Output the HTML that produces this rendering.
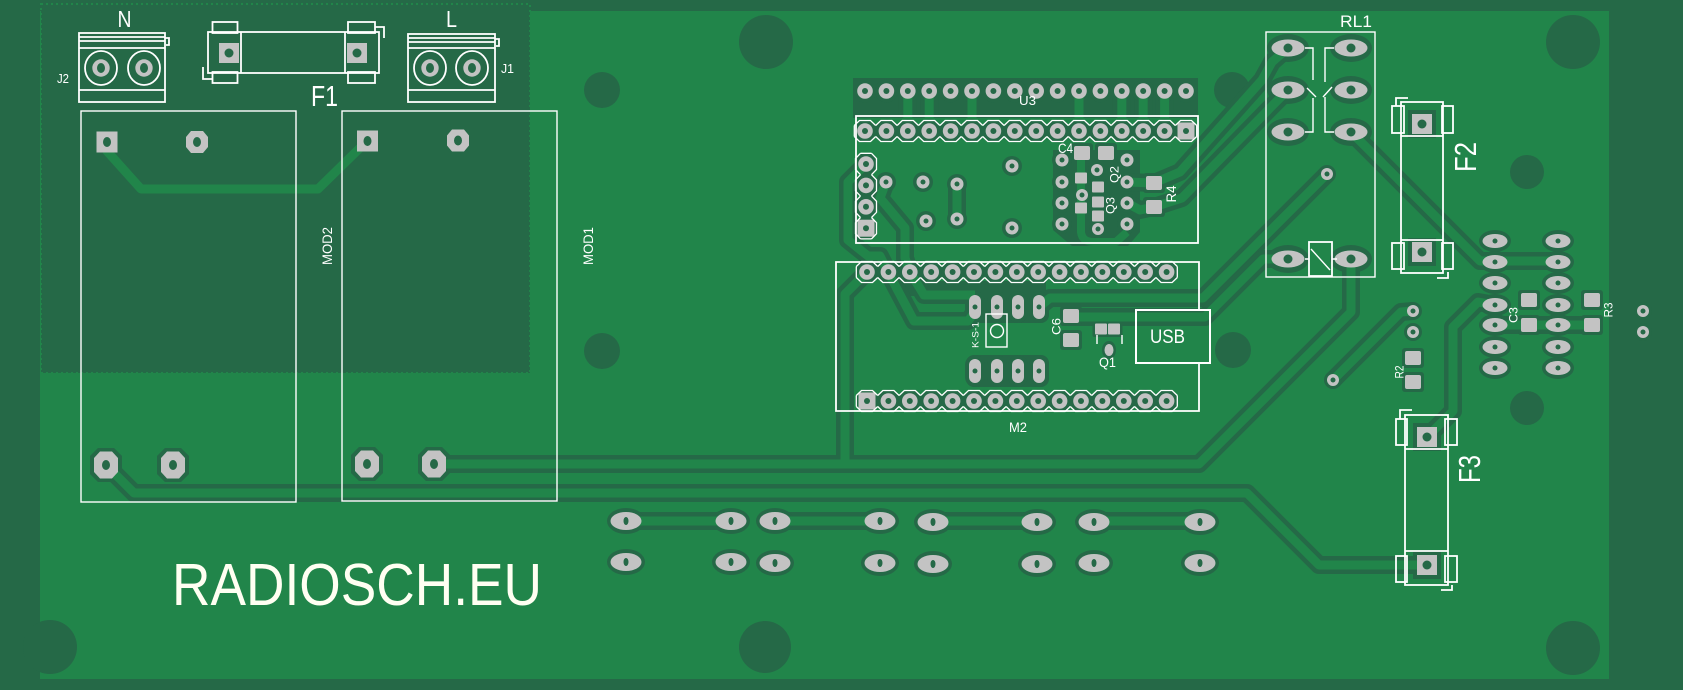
<!DOCTYPE html>
<html><head><meta charset="utf-8">
<style>
html,body{margin:0;padding:0;background:#256947;overflow:hidden;}
svg{display:block;}
text{font-family:"Liberation Sans",sans-serif;fill:#ffffff;}
</style></head><body>
<svg width="1683" height="690" viewBox="0 0 1683 690" xmlns="http://www.w3.org/2000/svg">
<defs>
<g id="pin"><circle r="11.5" style="fill:var(--c,#256947)"/><circle r="7.8" style="fill:var(--g,#c3c3c3)"/><circle r="3" style="fill:var(--h,#256947)"/></g>
<g id="pinsq"><circle r="11.5" style="fill:var(--c,#256947)"/><rect x="-8.5" y="-8.5" width="17" height="17" style="fill:var(--g,#c3c3c3)"/><circle r="3" style="fill:var(--h,#256947)"/></g>
<g id="ring"><circle r="10" style="fill:var(--c,#256947)"/><circle r="6.5" style="fill:var(--g,#c3c3c3)"/><circle r="2.5" style="fill:var(--h,#256947)"/></g>
<g id="via"><circle r="9" style="fill:var(--c,#256947)"/><circle r="6" style="fill:var(--g,#c3c3c3)"/><circle r="2.5" style="fill:var(--h,#256947)"/></g>
<g id="bp"><ellipse rx="19" ry="13" style="fill:var(--c,#256947)"/><ellipse rx="15.5" ry="9" style="fill:var(--g,#c3c3c3)"/><ellipse rx="2.5" ry="4" style="fill:var(--h,#256947)"/></g>
<g id="rp"><ellipse rx="21" ry="14" style="fill:var(--c,#256947)"/><ellipse rx="16.5" ry="8.5" style="fill:var(--g,#c3c3c3)"/><circle r="4.5" style="fill:var(--h,#256947)"/></g>
<g id="sp"><ellipse rx="16" ry="11" style="fill:var(--c,#256947)"/><ellipse rx="12.5" ry="7" style="fill:var(--g,#c3c3c3)"/><circle r="2.5" style="fill:var(--h,#256947)"/></g>
<g id="ov"><rect x="-10" y="-16" width="20" height="32" rx="10" style="fill:var(--c,#256947)"/><rect x="-6" y="-12" width="12" height="24" rx="6" style="fill:var(--g,#c3c3c3)"/><circle r="2.5" style="fill:var(--h,#256947)"/></g>
<g id="oct"><polygon points="-8,-17 8,-17 16,-9 16,9 8,17 -8,17 -16,9 -16,-9" style="fill:var(--c,#256947)"/><polygon points="-6,-13.5 6,-13.5 12,-7 12,7 6,13.5 -6,13.5 -12,7 -12,-7" style="fill:var(--g,#c3c3c3)"/><ellipse rx="4" ry="5" style="fill:var(--h,#256947)"/></g>
<g id="sq20"><rect x="-14" y="-14" width="28" height="28" style="fill:var(--c,#256947)"/><rect x="-10" y="-10" width="20" height="20" style="fill:var(--g,#c3c3c3)"/><circle r="4.5" style="fill:var(--h,#256947)"/></g>
<g id="smdA"><rect x="-11" y="-10" width="22" height="20" rx="3" style="fill:var(--c,#256947)"/><rect x="-8" y="-7" width="16" height="14" rx="2" style="fill:var(--g,#c3c3c3)"/></g>
<g id="smdB"><rect x="-8.5" y="-8" width="17" height="16" rx="2" style="fill:var(--c,#256947)"/><rect x="-6" y="-5.5" width="12" height="11" rx="1" style="fill:var(--g,#c3c3c3)"/></g>
<path id="pol" d="M-10.7,-5.5 L-5.5,-10.5 L5.5,-10.5 L10.7,-5.5 M-10.7,5.5 L-5.5,10.5 L5.5,10.5 L10.7,5.5" fill="none" stroke="#ffffff" stroke-width="1.3"/>
<path id="polv" d="M-5.5,-10.7 L-10.5,-5.5 L-10.5,5.5 L-5.5,10.7 M5.5,-10.7 L10.5,-5.5 L10.5,5.5 L5.5,10.7" fill="none" stroke="#ffffff" stroke-width="1.3"/>

<g id="traces" fill="none" stroke-linejoin="round">
<path d="M434,464 L1199,464 L1351,312 L1351,259"/>
<path d="M106,465 L134,493 L1247,493 L1319,565 L1427,565"/>
<path d="M867,272 L845,294 L845,464"/>
<path d="M1333,380 L1401,312 L1413,311"/>
<path d="M1427,437 L1453,411 L1453,327 L1478,302 L1495,305"/>
<path d="M1351,132 L1480,261 L1558,261"/>
<path d="M1495,325 L1592,325"/>
<path d="M1288,48 L1272,62 L1262,80 L1180,172 L1154,183"/>
<path d="M1288,90 L1272,106 L1182,198 L1154,207"/>
<path d="M1327,174 L1203,298 L1050,298 L1039,307"/>
<path d="M1288,259 L1263,259 L1205,317 L1071,317"/>
<path d="M888,272 L914,321 L968,321 L975,312"/>
<path d="M910,272 L924,295 L975,295"/>
<path d="M866,164 L848,182 L848,240 L868,256 L880,256 L888,272"/>
<path d="M886,182 L880,198 L905,228 L905,258 L910,272"/>
<path d="M957,184 L957,219"/>
<path d="M1127,182 L1154,183"/>
<path d="M1127,203 L1140,210 L1154,207"/>
<path d="M626,521 L731,521 M775,521 L880,521 M933,521 L1037,521 M1094,521 L1200,521"/>
<path d="M907.8,91 V118 M929.2,91 V118 M972,91 V118 M1079,91 V118 M1121.8,91 V118 M1143.2,91 V118 M1164.6,91 V118"/>
</g>

<g id="pads">
<use href="#pin" x="865" y="91"/><use href="#pin" x="886.4" y="91"/><use href="#pin" x="907.8" y="91"/><use href="#pin" x="929.2" y="91"/><use href="#pin" x="950.6" y="91"/><use href="#pin" x="972" y="91"/><use href="#pin" x="993.4" y="91"/><use href="#pin" x="1014.8" y="91"/><use href="#pin" x="1036.2" y="91"/><use href="#pin" x="1057.6" y="91"/><use href="#pin" x="1079" y="91"/><use href="#pin" x="1100.4" y="91"/><use href="#pin" x="1121.8" y="91"/><use href="#pin" x="1143.2" y="91"/><use href="#pin" x="1164.6" y="91"/><use href="#pin" x="1186" y="91"/>
<use href="#pin" x="865" y="131"/><use href="#pin" x="886.4" y="131"/><use href="#pin" x="907.8" y="131"/><use href="#pin" x="929.2" y="131"/><use href="#pin" x="950.6" y="131"/><use href="#pin" x="972" y="131"/><use href="#pin" x="993.4" y="131"/><use href="#pin" x="1014.8" y="131"/><use href="#pin" x="1036.2" y="131"/><use href="#pin" x="1057.6" y="131"/><use href="#pin" x="1079" y="131"/><use href="#pin" x="1100.4" y="131"/><use href="#pin" x="1121.8" y="131"/><use href="#pin" x="1143.2" y="131"/><use href="#pin" x="1164.6" y="131"/><use href="#pinsq" x="1186" y="131"/>
<use href="#pin" x="866" y="164"/><use href="#pin" x="866" y="185.4"/><use href="#pin" x="866" y="206.8"/><use href="#pinsq" x="866" y="228.2"/>
<use href="#pin" x="867" y="272"/><use href="#pin" x="888.4" y="272"/><use href="#pin" x="909.8" y="272"/><use href="#pin" x="931.2" y="272"/><use href="#pin" x="952.6" y="272"/><use href="#pin" x="974" y="272"/><use href="#pin" x="995.4" y="272"/><use href="#pin" x="1016.8" y="272"/><use href="#pin" x="1038.2" y="272"/><use href="#pin" x="1059.6" y="272"/><use href="#pin" x="1081" y="272"/><use href="#pin" x="1102.4" y="272"/><use href="#pin" x="1123.8" y="272"/><use href="#pin" x="1145.2" y="272"/><use href="#pin" x="1166.6" y="272"/>
<use href="#pinsq" x="867" y="401"/><use href="#pin" x="888.4" y="401"/><use href="#pin" x="909.8" y="401"/><use href="#pin" x="931.2" y="401"/><use href="#pin" x="952.6" y="401"/><use href="#pin" x="974" y="401"/><use href="#pin" x="995.4" y="401"/><use href="#pin" x="1016.8" y="401"/><use href="#pin" x="1038.2" y="401"/><use href="#pin" x="1059.6" y="401"/><use href="#pin" x="1081" y="401"/><use href="#pin" x="1102.4" y="401"/><use href="#pin" x="1123.8" y="401"/><use href="#pin" x="1145.2" y="401"/><use href="#pin" x="1166.6" y="401"/>
<use href="#ring" x="886" y="182"/><use href="#ring" x="923" y="182"/><use href="#ring" x="957" y="184"/><use href="#ring" x="957" y="219"/><use href="#ring" x="1012" y="166"/><use href="#ring" x="1012" y="228"/><use href="#ring" x="926" y="221"/>
<use href="#ring" x="1062" y="160"/><use href="#ring" x="1062" y="182"/><use href="#ring" x="1062" y="203"/><use href="#ring" x="1062" y="224"/>
<use href="#ring" x="1127" y="160"/><use href="#ring" x="1127" y="182"/><use href="#ring" x="1127" y="203"/><use href="#ring" x="1127" y="224"/>
<use href="#via" x="1097" y="170"/><use href="#via" x="1082" y="195"/><use href="#via" x="1098" y="229"/>
<use href="#via" x="1327" y="174"/><use href="#via" x="1333" y="380"/><use href="#via" x="1413" y="311"/><use href="#via" x="1413" y="332"/>
<use href="#via" x="1643" y="311"/><use href="#via" x="1643" y="332"/>
<use href="#smdA" x="1082" y="153"/><use href="#smdA" x="1106" y="153"/>
<use href="#smdA" x="1154" y="183"/><use href="#smdA" x="1154" y="207"/>
<use href="#smdA" x="1071" y="316"/><use href="#smdA" x="1071" y="340"/>
<use href="#smdA" x="1529" y="300"/><use href="#smdA" x="1529" y="325"/>
<use href="#smdA" x="1592" y="300"/><use href="#smdA" x="1592" y="325"/>
<use href="#smdA" x="1413" y="358"/><use href="#smdA" x="1413" y="382"/>
<use href="#smdB" x="1081" y="178"/><use href="#smdB" x="1098" y="187"/><use href="#smdB" x="1081" y="208"/><use href="#smdB" x="1098" y="202"/><use href="#smdB" x="1098" y="216"/>
<use href="#smdB" x="1101" y="329"/><use href="#smdB" x="1114" y="329"/>
<ellipse cx="1109" cy="350" rx="7" ry="9" style="fill:var(--c,#256947)"/><ellipse cx="1109" cy="350" rx="4.5" ry="6" style="fill:var(--g,#c3c3c3)"/>
<use href="#ov" x="975" y="307"/><use href="#ov" x="997" y="307"/><use href="#ov" x="1018" y="307"/><use href="#ov" x="1039" y="307"/>
<use href="#ov" x="975" y="371"/><use href="#ov" x="997" y="371"/><use href="#ov" x="1018" y="371"/><use href="#ov" x="1039" y="371"/>
<use href="#rp" x="1288" y="48"/><use href="#rp" x="1288" y="90"/><use href="#rp" x="1288" y="132"/><use href="#rp" x="1288" y="259"/>
<use href="#rp" x="1351" y="48"/><use href="#rp" x="1351" y="90"/><use href="#rp" x="1351" y="132"/><use href="#rp" x="1351" y="259"/>
<use href="#sp" x="1495" y="241"/><use href="#sp" x="1495" y="262"/><use href="#sp" x="1495" y="283"/><use href="#sp" x="1495" y="305"/><use href="#sp" x="1495" y="325"/><use href="#sp" x="1495" y="347"/><use href="#sp" x="1495" y="368"/>
<use href="#sp" x="1558" y="241"/><use href="#sp" x="1558" y="262"/><use href="#sp" x="1558" y="283"/><use href="#sp" x="1558" y="305"/><use href="#sp" x="1558" y="325"/><use href="#sp" x="1558" y="347"/><use href="#sp" x="1558" y="368"/>
<use href="#bp" x="626" y="521"/><use href="#bp" x="731" y="521"/><use href="#bp" x="775" y="521"/><use href="#bp" x="880" y="521"/><use href="#bp" x="933" y="522"/><use href="#bp" x="1037" y="522"/><use href="#bp" x="1094" y="522"/><use href="#bp" x="1200" y="522"/>
<use href="#bp" x="626" y="562"/><use href="#bp" x="731" y="562"/><use href="#bp" x="775" y="563"/><use href="#bp" x="880" y="563"/><use href="#bp" x="933" y="564"/><use href="#bp" x="1037" y="564"/><use href="#bp" x="1094" y="563"/><use href="#bp" x="1200" y="563"/>
<use href="#oct" x="106" y="465"/><use href="#oct" x="173" y="465"/><use href="#oct" x="367" y="464"/><use href="#oct" x="434" y="464"/>
<use href="#sq20" x="229" y="53"/><use href="#sq20" x="357" y="53"/>
<use href="#sq20" x="1422" y="124"/><use href="#sq20" x="1422" y="252"/>
<use href="#sq20" x="1427" y="437"/><use href="#sq20" x="1427" y="565"/>
</g>
</defs>

<rect x="0" y="0" width="1683" height="690" fill="#256947"/>
<rect x="40" y="11" width="1569" height="668" fill="#21854a"/>

<rect x="41" y="4" width="489" height="369" fill="#256947" stroke="#21854a" stroke-width="2" stroke-dasharray="2 3"/>

<g fill="#256947">
<circle cx="766" cy="42" r="27"/>
<circle cx="1573" cy="42" r="27"/>
<circle cx="50" cy="647" r="27"/>
<circle cx="765" cy="647" r="26"/>
<circle cx="1573" cy="648" r="27"/>
<circle cx="602" cy="90" r="18"/>
<circle cx="602" cy="351" r="18"/>
<circle cx="1232" cy="90" r="18"/>
<circle cx="1233" cy="350" r="18"/>
<circle cx="1527" cy="172" r="17"/>
<circle cx="1527" cy="408" r="17"/>
</g>

<g fill="#256947">
<rect x="853" y="78" width="345" height="40"/>
<path d="M1053,150 L1140,150 L1140,232 L1128,246 L1072,246 L1053,230 Z"/>
<rect x="966" y="291" width="83" height="32" rx="8"/>
<rect x="966" y="355" width="83" height="32" rx="8"/>
<rect x="900" y="281" width="146" height="15"/>
</g>

<use href="#traces" stroke="#256947" stroke-width="18"/>
<use href="#pads" style="--g:transparent;--h:transparent"/>
<use href="#traces" stroke="#21854a" stroke-width="9"/>
<path d="M1081,160 V232 Q1082,242 1094,242 L1116,242 L1127,232" fill="none" stroke="#21854a" stroke-width="8" stroke-linejoin="round"/>
<use href="#pads" style="--c:transparent"/>

<path d="M106,150 L141,189 L318,189 L365,143" fill="none" stroke="#21854a" stroke-width="9" stroke-linejoin="round"/>

<rect x="96.5" y="131.5" width="21" height="21" fill="#c3c3c3"/><ellipse cx="107" cy="142" rx="4" ry="5" fill="#256947"/>
<polygon points="191,131 203,131 208,137 208,147 203,153 191,153 186,147 186,137" fill="#c3c3c3"/><ellipse cx="197" cy="142" rx="4" ry="5" fill="#256947"/>
<rect x="357" y="130.5" width="21" height="21" fill="#c3c3c3"/><ellipse cx="367.5" cy="141" rx="4" ry="5" fill="#256947"/>
<polygon points="452,129.5 464,129.5 469,135.5 469,145.5 464,151.5 452,151.5 447,145.5 447,135.5" fill="#c3c3c3"/><ellipse cx="458" cy="140.5" rx="4" ry="5" fill="#256947"/>

<g fill="#c3c3c3"><circle cx="101" cy="68" r="8.7"/><circle cx="144" cy="68" r="8.7"/><circle cx="430" cy="68" r="8.7"/><circle cx="472" cy="68" r="8.7"/></g>
<g fill="#256947"><ellipse cx="101" cy="68" rx="4" ry="5"/><ellipse cx="144" cy="68" rx="4" ry="5"/><ellipse cx="430" cy="68" rx="4" ry="5"/><ellipse cx="472" cy="68" rx="4" ry="5"/></g>

<g fill="none" stroke="#ffffff" stroke-width="1.8">
<rect x="79" y="33" width="86" height="69"/>
<path d="M79,37 H165 M79,41 H165 M79,48 H165 M79,90 H165 M165,38 H169 V45 H166"/>
<ellipse cx="101" cy="68" rx="16" ry="17"/><ellipse cx="144" cy="68" rx="16" ry="17"/>
<rect x="408" y="34" width="87" height="68"/>
<path d="M408,38 H495 M408,42 H495 M408,48 H495 M408,90 H495 M495,39 H499 V46 H496"/>
<ellipse cx="430" cy="68" rx="16" ry="17"/><ellipse cx="472" cy="68" rx="16" ry="17"/>
<rect x="208" y="32" width="171" height="41"/>
<path d="M241,32 V73 M345,32 V73 M203,67 V79 H212 M375,27 H384 V38"/>
<rect x="212.5" y="22" width="25" height="11"/><rect x="212.5" y="72" width="25" height="11"/>
<rect x="348" y="22" width="27" height="11"/><rect x="348" y="72" width="27" height="11"/>
<rect x="1401" y="102" width="42" height="171"/>
<path d="M1401,136 H1443 M1401,240 H1443 M1396,106 V98 H1408 M1437,278 H1448 V272"/>
<rect x="1392" y="106" width="12" height="27"/><rect x="1442" y="106" width="11" height="27"/>
<rect x="1392" y="243" width="12" height="26"/><rect x="1442" y="243" width="11" height="26"/>
<rect x="1405" y="415" width="43" height="170"/>
<path d="M1405,449 H1448 M1405,551 H1448 M1400,419 V410 H1412 M1441,590 H1452 V585"/>
<rect x="1396" y="419" width="11" height="26"/><rect x="1445" y="419" width="12" height="26"/>
<rect x="1396" y="556" width="11" height="26"/><rect x="1445" y="556" width="12" height="26"/>
<rect x="1309" y="242" width="23" height="34"/>
</g>
<g fill="none" stroke="#ffffff" stroke-width="1.4">
<rect x="81" y="111" width="215" height="391"/>
<rect x="342" y="111" width="215" height="390"/>
<rect x="1266" y="32" width="109" height="245"/>
<rect x="856" y="116" width="342" height="127" stroke-width="1.8"/>
<path d="M1199,310 V262 H836 V411 H1199 V363" stroke-width="1.8"/>
<rect x="1136" y="310" width="74" height="53" stroke-width="2"/>
<rect x="986" y="314" width="21" height="33"/>
<circle cx="997" cy="331" r="6.5"/>
<path d="M1097,335 V344 M1122,335 V344"/>
<path d="M1305,48 H1313 V80 M1307,88 L1316,97 M1313,98 V132 H1305 M1334,48 H1325 V82 M1323,97 L1332,87 M1325,97 V132 H1334"/>
<path d="M1311,249 L1330,270 M1305,259 H1309 M1332,259 H1337"/>
</g>

<g>
<use href="#pol" x="865" y="131"/><use href="#pol" x="886.4" y="131"/><use href="#pol" x="907.8" y="131"/><use href="#pol" x="929.2" y="131"/><use href="#pol" x="950.6" y="131"/><use href="#pol" x="972" y="131"/><use href="#pol" x="993.4" y="131"/><use href="#pol" x="1014.8" y="131"/><use href="#pol" x="1036.2" y="131"/><use href="#pol" x="1057.6" y="131"/><use href="#pol" x="1079" y="131"/><use href="#pol" x="1100.4" y="131"/><use href="#pol" x="1121.8" y="131"/><use href="#pol" x="1143.2" y="131"/><use href="#pol" x="1164.6" y="131"/><use href="#pol" x="1186" y="131"/>
<use href="#pol" x="867" y="272"/><use href="#pol" x="888.4" y="272"/><use href="#pol" x="909.8" y="272"/><use href="#pol" x="931.2" y="272"/><use href="#pol" x="952.6" y="272"/><use href="#pol" x="974" y="272"/><use href="#pol" x="995.4" y="272"/><use href="#pol" x="1016.8" y="272"/><use href="#pol" x="1038.2" y="272"/><use href="#pol" x="1059.6" y="272"/><use href="#pol" x="1081" y="272"/><use href="#pol" x="1102.4" y="272"/><use href="#pol" x="1123.8" y="272"/><use href="#pol" x="1145.2" y="272"/><use href="#pol" x="1166.6" y="272"/>
<use href="#pol" x="867" y="401"/><use href="#pol" x="888.4" y="401"/><use href="#pol" x="909.8" y="401"/><use href="#pol" x="931.2" y="401"/><use href="#pol" x="952.6" y="401"/><use href="#pol" x="974" y="401"/><use href="#pol" x="995.4" y="401"/><use href="#pol" x="1016.8" y="401"/><use href="#pol" x="1038.2" y="401"/><use href="#pol" x="1059.6" y="401"/><use href="#pol" x="1081" y="401"/><use href="#pol" x="1102.4" y="401"/><use href="#pol" x="1123.8" y="401"/><use href="#pol" x="1145.2" y="401"/><use href="#pol" x="1166.6" y="401"/>
<use href="#polv" x="866" y="164"/><use href="#polv" x="866" y="185.4"/><use href="#polv" x="866" y="206.8"/><use href="#polv" x="866" y="228.2"/>
<path d="M854.3,125.5 V136.5 M1196.7,125.5 V136.5 M856.3,266.5 V277.5 M1177.3,266.5 V277.5 M856.3,395.5 V406.5 M1177.3,395.5 V406.5 M860.5,153.3 H871.5 M860.5,238.9 H871.5" fill="none" stroke="#ffffff" stroke-width="1.3"/>
</g>

<text x="124.5" y="27" font-size="23" text-anchor="middle" textLength="14" lengthAdjust="spacingAndGlyphs">N</text>
<text x="451.5" y="27" font-size="23" text-anchor="middle" textLength="11" lengthAdjust="spacingAndGlyphs">L</text>
<text x="311" y="106" font-size="29" textLength="27" lengthAdjust="spacingAndGlyphs">F1</text>
<text x="57" y="83" font-size="13" textLength="12" lengthAdjust="spacingAndGlyphs">J2</text>
<text x="501" y="73" font-size="13" textLength="13" lengthAdjust="spacingAndGlyphs">J1</text>
<text transform="translate(327,246) rotate(-90)" x="0" y="5" font-size="14" text-anchor="middle" textLength="38" lengthAdjust="spacingAndGlyphs">MOD2</text>
<text transform="translate(588,246) rotate(-90)" x="0" y="5" font-size="14" text-anchor="middle" textLength="38" lengthAdjust="spacingAndGlyphs">MOD1</text>
<text x="1019" y="105" font-size="13" textLength="17" lengthAdjust="spacingAndGlyphs">U3</text>
<text x="1058" y="153" font-size="14" textLength="15" lengthAdjust="spacingAndGlyphs">C4</text>
<text transform="translate(1114,174.5) rotate(-90)" x="0" y="4.5" font-size="12" text-anchor="middle" textLength="17" lengthAdjust="spacingAndGlyphs">Q2</text>
<text transform="translate(1110,205.5) rotate(-90)" x="0" y="4.5" font-size="12" text-anchor="middle" textLength="17" lengthAdjust="spacingAndGlyphs">Q3</text>
<text transform="translate(1171,194) rotate(-90)" x="0" y="5" font-size="14" text-anchor="middle" textLength="17" lengthAdjust="spacingAndGlyphs">R4</text>
<text x="1009" y="432" font-size="14" textLength="18" lengthAdjust="spacingAndGlyphs">M2</text>
<text x="1150" y="343" font-size="19" textLength="35" lengthAdjust="spacingAndGlyphs">USB</text>
<text transform="translate(1056,326.5) rotate(-90)" x="0" y="4.5" font-size="12" text-anchor="middle" textLength="17" lengthAdjust="spacingAndGlyphs">C6</text>
<text x="1099" y="367" font-size="14" textLength="17" lengthAdjust="spacingAndGlyphs">Q1</text>
<text transform="translate(975,335) rotate(-90)" x="0" y="3.5" font-size="9" text-anchor="middle" textLength="26" lengthAdjust="spacingAndGlyphs">K-S-1</text>
<text x="1340" y="27" font-size="17" textLength="32" lengthAdjust="spacingAndGlyphs">RL1</text>
<text transform="translate(1465,157) rotate(-90)" x="0" y="11" font-size="31" text-anchor="middle" textLength="30" lengthAdjust="spacingAndGlyphs">F2</text>
<text transform="translate(1469,469) rotate(-90)" x="0" y="11" font-size="31" text-anchor="middle" textLength="28" lengthAdjust="spacingAndGlyphs">F3</text>
<text transform="translate(1399,372) rotate(-90)" x="0" y="4.5" font-size="12" text-anchor="middle" textLength="13" lengthAdjust="spacingAndGlyphs">R2</text>
<text transform="translate(1513,315) rotate(-90)" x="0" y="4.5" font-size="12" text-anchor="middle" textLength="16" lengthAdjust="spacingAndGlyphs">C3</text>
<text transform="translate(1608,310) rotate(-90)" x="0" y="4.5" font-size="12" text-anchor="middle" textLength="15" lengthAdjust="spacingAndGlyphs">R3</text>
<text x="172" y="605" font-size="59" textLength="370" lengthAdjust="spacingAndGlyphs" style="fill:#fffff2">RADIOSCH.EU</text>
</svg>
</body></html>
